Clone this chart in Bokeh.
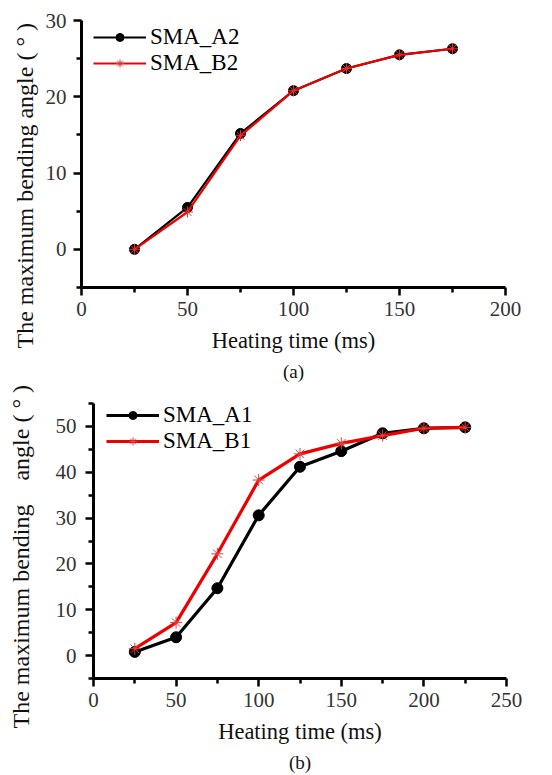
from bokeh.plotting import figure
from bokeh.models import FixedTicker, Legend, LegendItem, Title, Range1d
from bokeh.embed import file_html
from bokeh.resources import INLINE

# ---- data (a) ----
time_a = [25, 50, 75, 100, 125, 150, 175]
sma_a2 = [0.0, 5.5, 15.2, 20.8, 23.7, 25.5, 26.3]
sma_b2 = [0.0, 4.9, 14.9, 20.8, 23.7, 25.5, 26.3]
xticks_a = [0, 50, 100, 150, 200]
xminor_a = [25, 75, 125, 175]
yticks_a = [0, 10, 20, 30]
yminor_a = [-5, 5, 15, 25]

# ---- data (b) ----
time_b = [25, 50, 75, 100, 125, 150, 175, 200, 225]
sma_a1 = [0.8, 4.0, 14.7, 30.6, 41.2, 44.6, 48.5, 49.6, 49.8]
sma_b1 = [1.5, 7.2, 22.2, 38.3, 44.0, 46.3, 48.0, 49.6, 49.8]
xticks_b = [0, 50, 100, 150, 200, 250]
xminor_b = [25, 75, 125, 175, 225]
yticks_b = [0, 10, 20, 30, 40, 50]
yminor_b = [-5, 5, 15, 25, 35, 45, 55]

FONT = "Liberation Serif"
NB = "\u00a0"


def style(p, xt, xm, yt, ym, ystandoff, spacer):
    p.grid.visible = False
    p.outline_line_color = None
    p.background_fill_color = "white"
    p.border_fill_color = "white"
    for ax in (p.xaxis[0], p.yaxis[0]):
        ax.axis_line_width = 3
        ax.axis_line_color = "black"
        ax.major_tick_line_width = 2.5
        ax.minor_tick_line_width = 2.5
        ax.major_tick_in = 0
        ax.major_tick_out = 8
        ax.minor_tick_in = 0
        ax.minor_tick_out = 5
        ax.major_label_text_font = FONT
        ax.major_label_text_font_size = "21px"
        ax.major_label_text_color = "#333333"
        ax.axis_label_text_font = FONT
        ax.axis_label_text_font_style = "normal"
        ax.axis_label_text_color = "#111111"
    p.xaxis[0].major_label_standoff = 6
    p.yaxis[0].major_label_standoff = ystandoff
    p.xaxis[0].ticker = FixedTicker(ticks=xt, minor_ticks=xm)
    p.yaxis[0].ticker = FixedTicker(ticks=yt, minor_ticks=ym)
    p.xaxis[0].axis_label = "Heating time (ms)"
    p.xaxis[0].axis_label_text_font_size = "22.5px"
    p.xaxis[0].axis_label_standoff = 9
    if spacer:
        p.yaxis[0].axis_label = NB
        p.yaxis[0].axis_label_text_font_size = "1px"
        p.yaxis[0].axis_label_standoff = spacer


def ylabel(p, text, offset):
    p.add_layout(Title(text=text, align="left", offset=offset, standoff=10,
                       text_font=FONT, text_font_size="24px",
                       text_font_style="normal", text_color="#111111"), "left")


def caption(p, text):
    p.add_layout(Title(text=text, align="center", standoff=6,
                       text_font=FONT, text_font_size="19px",
                       text_font_style="normal", text_color="#111111"), "below")


def legend(p, items, loc):
    p.add_layout(Legend(items=items, location=loc, padding=0, margin=0, spacing=0,
                        glyph_width=53, glyph_height=20, label_height=20,
                        label_standoff=4, label_text_font=FONT,
                        label_text_font_size="23px",
                        label_text_color="black",
                        background_fill_alpha=0, border_line_alpha=0), "center")


# ---------------- panel (a) ----------------
p1 = figure(width=552, height=385, output_backend="svg", toolbar_location=None,
            x_range=Range1d(0, 200), y_range=Range1d(-5, 30),
            min_border_left=81, min_border_right=47, min_border_top=20,
            min_border_bottom=98)
style(p1, xticks_a, xminor_a, yticks_a, yminor_a, 7, 0)

la = p1.line(time_a, sma_a2, line_color="black", line_width=2.2)
ca = p1.scatter(time_a, sma_a2, marker="circle", size=10, fill_color="black",
                line_color="black")
lb = p1.line(time_a, sma_b2, line_color="#ee0000", line_width=2.2)
cb = p1.scatter(time_a, sma_b2, marker="asterisk", size=11, line_color="#e03030",
                line_width=1)
legend(p1, [LegendItem(label="SMA_A2", renderers=[la, ca]),
            LegendItem(label="SMA_B2", renderers=[lb, cb])], (12, 211))
ylabel(p1, "The maximum bending angle ( \u00b0 )", -61)
caption(p1, "(a)")

# ---------------- panel (b) ----------------
p2 = figure(width=552, height=390, output_backend="svg", toolbar_location=None,
            x_range=Range1d(0, 250), y_range=Range1d(-5, 55),
            min_border_left=92, min_border_right=46, min_border_top=18,
            min_border_bottom=92)
style(p2, xticks_b, xminor_b, yticks_b, yminor_b, 9, 10)

l1 = p2.line(time_b, sma_a1, line_color="black", line_width=3.2)
c1 = p2.scatter(time_b, sma_a1, marker="circle", size=11, fill_color="black",
                line_color="black")
l2 = p2.line(time_b, sma_b1, line_color="#ee0000", line_width=3.2)
c2 = p2.scatter(time_b, sma_b1, marker="asterisk", size=12, line_color="#e04040",
                line_width=1)
legend(p2, [LegendItem(label="SMA_A1", renderers=[l1, c1]),
            LegendItem(label="SMA_B1", renderers=[l2, c2])], (13, 224))
ylabel(p2, "The maximum bending" + NB * 4 + "angle ( \u00b0 )", -50)
caption(p2, "(b)")

open("out.html", "w").write(file_html([p1, p2], INLINE))
